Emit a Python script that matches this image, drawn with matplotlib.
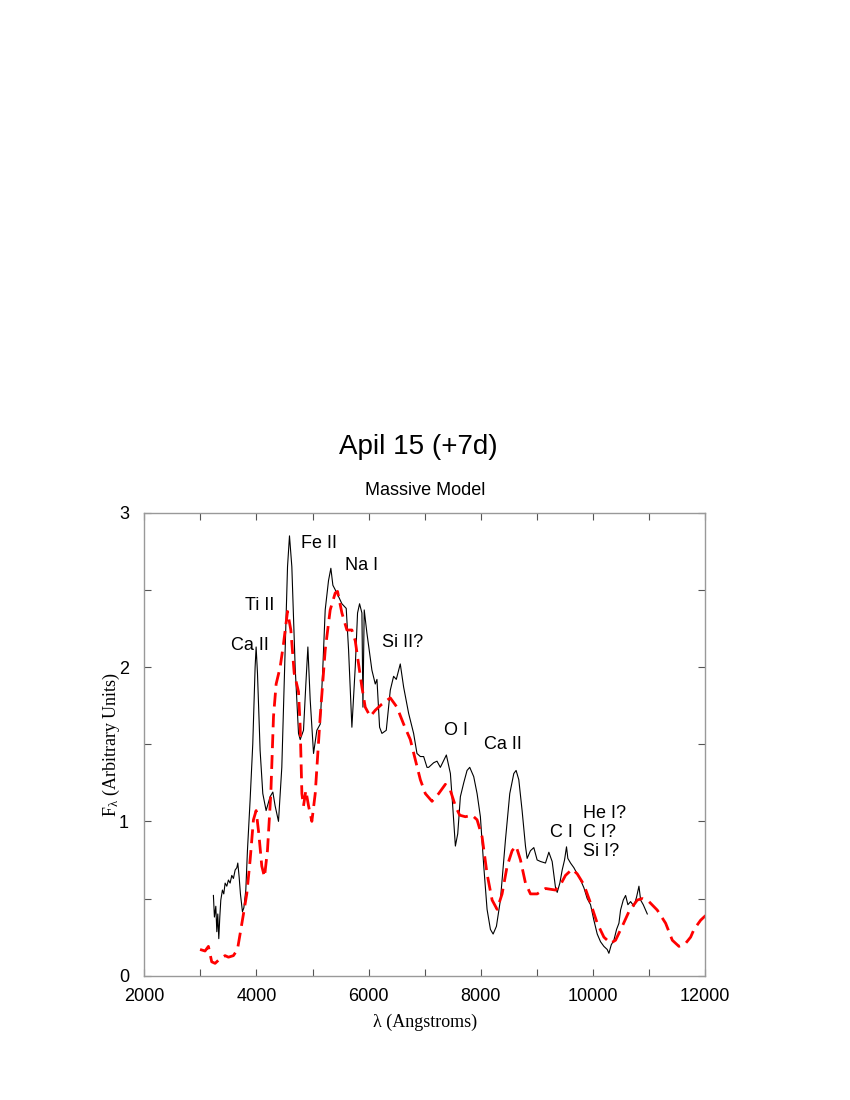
import matplotlib
matplotlib.use("Agg")
import matplotlib.pyplot as plt
from matplotlib.ticker import MultipleLocator

plt.rcParams["mathtext.fontset"] = "custom"
plt.rcParams["mathtext.rm"] = "Liberation Serif"
plt.rcParams["mathtext.it"] = "Liberation Serif:italic"

# Observed spectrum (black)
obs_wave = [3232, 3250, 3275, 3293, 3310, 3328, 3346, 3364, 3393, 3417, 3441, 3471,
            3500, 3530, 3560, 3589, 3620, 3650, 3667, 3691, 3714, 3750, 3775, 3810,
            3839, 3887, 3934, 3976, 3994, 4018, 4065, 4113, 4172, 4244, 4292, 4333,
            4393, 4452, 4512, 4554, 4589, 4631, 4690, 4750, 4780, 4839, 4881, 4917,
            4958, 5018, 5077, 5137, 5184, 5226, 5285, 5327, 5363, 5434, 5524, 5601,
            5643, 5702, 5762, 5803, 5839, 5881, 5899, 5922, 5970, 6059, 6119, 6149,
            6196, 6238, 6315, 6387, 6446, 6494, 6565, 6625, 6714, 6803, 6863, 6923,
            6982, 7042, 7071, 7161, 7220, 7280, 7387, 7459, 7500, 7548, 7590, 7637,
            7697, 7756, 7804, 7875, 7935, 7994, 8054, 8113, 8173, 8221, 8280, 8351,
            8441, 8518, 8590, 8631, 8679, 8738, 8798, 8828, 8887, 8947, 9006, 9066,
            9155, 9215, 9274, 9334, 9364, 9411, 9453, 9495, 9530, 9554, 9602, 9661,
            9721, 9780, 9840, 9899, 9959, 10018, 10078, 10137, 10197, 10256, 10286,
            10328, 10375, 10423, 10465, 10494, 10542, 10584, 10625, 10673, 10733,
            10780, 10822, 10852, 10899, 10941, 10971]
obs_flux = [0.52, 0.38, 0.45, 0.285, 0.40, 0.24, 0.38, 0.49, 0.555, 0.53, 0.60, 0.58,
            0.62, 0.60, 0.65, 0.63, 0.685, 0.70, 0.73, 0.64, 0.53, 0.415, 0.44, 0.555,
            0.81, 1.14, 1.50, 2.00, 2.13, 1.96, 1.46, 1.18, 1.07, 1.16, 1.19, 1.10,
            1.00, 1.35, 2.11, 2.65, 2.85, 2.65, 2.00, 1.57, 1.53, 1.59, 1.89, 2.13,
            1.79, 1.44, 1.59, 1.63, 2.00, 2.37, 2.56, 2.64, 2.53, 2.48, 2.41, 2.38,
            2.11, 1.61, 2.00, 2.35, 2.41, 2.35, 1.74, 2.37, 2.22, 1.98, 1.89, 1.92,
            1.61, 1.57, 1.59, 1.85, 1.94, 1.92, 2.02, 1.87, 1.70, 1.57, 1.44, 1.42,
            1.42, 1.35, 1.35, 1.38, 1.39, 1.35, 1.43, 1.31, 1.10, 0.84, 0.92, 1.16,
            1.25, 1.33, 1.35, 1.29, 1.18, 1.03, 0.71, 0.43, 0.30, 0.27, 0.32, 0.49,
            0.88, 1.18, 1.31, 1.33, 1.27, 1.07, 0.84, 0.76, 0.81, 0.83, 0.75, 0.74,
            0.73, 0.80, 0.74, 0.57, 0.54, 0.60, 0.685, 0.75, 0.835, 0.76, 0.73, 0.70,
            0.66, 0.62, 0.57, 0.50, 0.46, 0.36, 0.27, 0.22, 0.19, 0.17, 0.145,
            0.20, 0.23, 0.30, 0.34, 0.425, 0.49, 0.52, 0.46, 0.48, 0.45,
            0.51, 0.58, 0.49, 0.46, 0.425, 0.40]

# Model spectrum (red dashed)
mod_wave = [2994, 3083, 3143, 3202, 3262, 3351, 3440, 3500, 3589, 3661, 3708, 3768,
            3827, 3887, 3946, 3994, 4042, 4095, 4143, 4196, 4256, 4304, 4351, 4423,
            4482, 4554, 4613, 4673, 4750, 4780, 4810, 4839, 4881, 4929, 4988, 5048,
            5137, 5226, 5315, 5405, 5446, 5524, 5613, 5702, 5762, 5821, 5881, 5940,
            6029, 6119, 6238, 6387, 6506, 6625, 6744, 6833, 6923, 7012, 7131, 7250,
            7369, 7459, 7548, 7625, 7727, 7846, 7935, 8024, 8113, 8203, 8292, 8381,
            8471, 8560, 8631, 8709, 8798, 8887, 9006, 9155, 9334, 9423, 9512, 9631,
            9721, 9840, 9959, 10078, 10197, 10316, 10405, 10524, 10643, 10792, 10881,
            11001, 11149, 11298, 11417, 11536, 11655, 11744, 11804, 11923, 12012]
mod_flux = [0.17, 0.16, 0.19, 0.09, 0.08, 0.11, 0.13, 0.12, 0.13, 0.17, 0.27, 0.40,
            0.53, 0.75, 1.01, 1.07, 0.92, 0.71, 0.64, 0.81, 1.18, 1.68, 1.89, 2.00,
            2.15, 2.36, 2.24, 1.96, 1.84, 1.61, 1.18, 1.10, 1.20, 1.10, 1.00, 1.18,
            1.68, 2.11, 2.37, 2.48, 2.49, 2.35, 2.24, 2.24, 2.17, 2.02, 1.87, 1.74,
            1.68, 1.72, 1.76, 1.80, 1.74, 1.63, 1.53, 1.40, 1.27, 1.18, 1.13, 1.18,
            1.24, 1.20, 1.10, 1.04, 1.03, 1.04, 1.01, 0.90, 0.66, 0.49, 0.43, 0.53,
            0.71, 0.81, 0.84, 0.75, 0.60, 0.53, 0.53, 0.565, 0.555, 0.59, 0.65, 0.69,
            0.66, 0.59, 0.47, 0.34, 0.25, 0.21, 0.23, 0.32, 0.415, 0.49, 0.50,
            0.48, 0.425, 0.34, 0.23, 0.19, 0.21, 0.25, 0.30, 0.36, 0.39]

# Line identifications
line_labels = ["Ca II", "Ti II", "Fe II", "Na I", "Si II?", "O I", "Ca II", "C I", "He I?\nC I?\nSi I?"]
label_wave = [3888, 4066, 5120, 5870, 6602, 7566, 8405, 9441, 9816]
label_flux = [2.14, 2.40, 2.80, 2.66, 2.16, 1.59, 1.50, 0.93, 0.925]

fig = plt.figure(figsize=(8.5, 11), dpi=100)
ax = fig.add_axes([0.1698, 0.1130, 0.6596, 0.4209])

ax.plot(obs_wave, obs_flux, color="black", lw=0.8)
ax.plot(mod_wave, mod_flux, color="#ff0000", lw=2.0, dashes=(5, 2.5))

for lab, w, f in zip(line_labels, label_wave, label_flux):
    ha = "left" if "\n" in lab else "center"
    ax.text(w, f, lab, ha=ha, va="center", fontsize=13, family="Liberation Sans",
            linespacing=1.15)

ax.set_xlim(2000, 12000)
ax.set_ylim(0, 3)
ax.xaxis.set_major_locator(MultipleLocator(2000))
ax.xaxis.set_minor_locator(MultipleLocator(1000))
ax.yaxis.set_major_locator(MultipleLocator(1))
ax.yaxis.set_minor_locator(MultipleLocator(0.5))
ax.tick_params(which="both", direction="in", top=True, right=True, length=5,
               width=0.8, color="#555555", labelsize=13)
ax.tick_params(axis="x", which="both", pad=9)
ax.tick_params(axis="y", which="both", pad=11)
for lab in ax.get_xticklabels() + ax.get_yticklabels():
    lab.set_family("Liberation Sans")
for sp in ax.spines.values():
    sp.set_color("#999999")
    sp.set_linewidth(1.0)

ax.set_xlabel("λ (Angstroms)", family="Liberation Serif", fontsize=13, labelpad=6)
ax.set_ylabel(r"F$_{\mathrm{λ}}$ (Arbitrary Units)", family="Liberation Serif",
              fontsize=13, labelpad=-2)

fig.text(418 / 850, 1 - 447 / 1100, "Apil 15 (+7d)", ha="center", va="center",
         fontsize=20, family="Liberation Sans")
fig.text(425 / 850, 1 - 491 / 1100, "Massive Model", ha="center", va="center",
         fontsize=13, family="Liberation Sans")

fig.savefig("out.png", dpi=100)
